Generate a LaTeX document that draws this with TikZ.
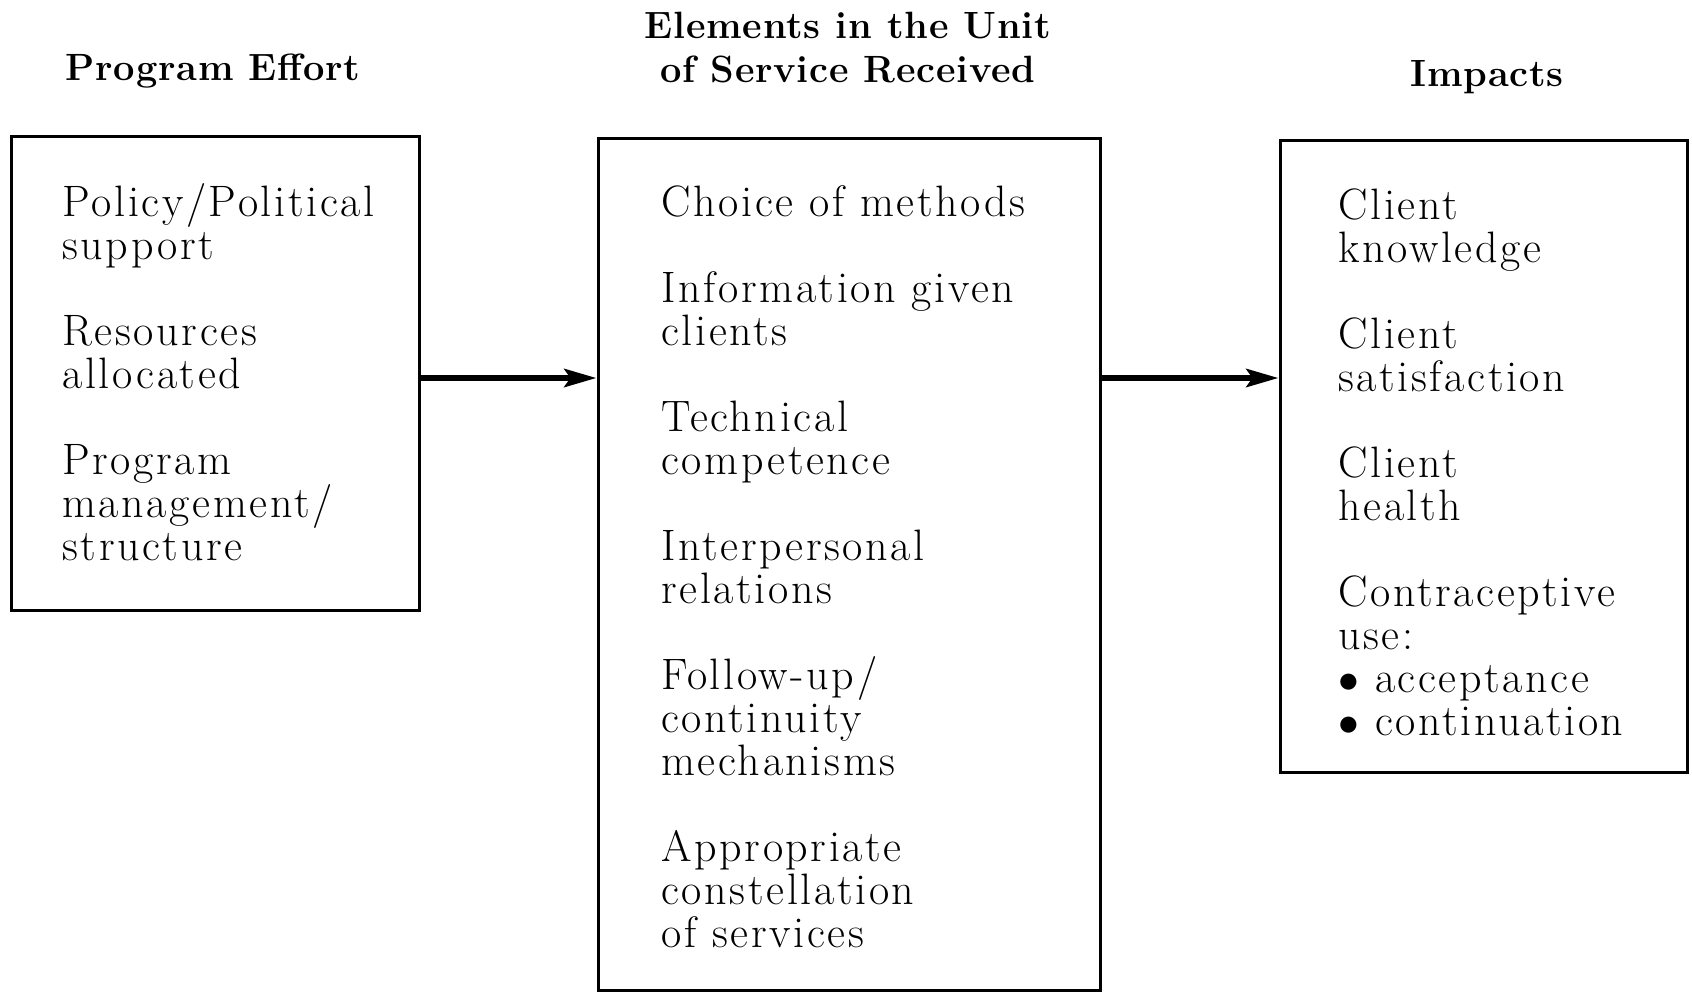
\documentclass[tikz,border=0pt]{standalone}
\usepackage{fontspec}
\newfontfamily\bodyfont[LetterSpace=6]{Latin Modern Roman}
\newfontfamily\headfont[LetterSpace=2]{Latin Modern Roman}
\usepackage{tikz}
\usetikzlibrary{arrows.meta, positioning, fit}

\tikzset{
  panel/.style={draw, line width=1.5pt, inner sep=0pt},
  body/.style={anchor=north west, inner sep=0pt, align=left,
    font=\bodyfont\fontsize{22}{21.5}\selectfont},
  head/.style={inner sep=0pt, align=center,
    font=\headfont\fontsize{19}{22}\selectfont\bfseries},
  flow/.style={-{Stealth[length=16pt, width=9pt, inset=3pt]}, line width=3pt}
}

\begin{document}
\begin{tikzpicture}[x=0.5pt, y=-0.5pt]
  \useasboundingbox (0,0) rectangle (1692,992);

  % Panel borders
  \node[panel, fit={(11,136) (419,610)}] (effort) {};
  \node[panel, fit={(598,138) (1100,990)}] (unit) {};
  \node[panel, fit={(1280,140) (1687,772)}] (impact) {};

  % --- Column headings ---
  \node[head, anchor=base] (effortHead) at (213,80) {Program Effort};
  \node[head, anchor=north] (unitHead) at (848,12) {Elements in the Unit\\of Service Received};
  \node[head, anchor=base] (impactHead) at (1487,86) {Impacts};

  % --- Panel 1: Program effort ---
  \node[body] (effortText) at (62,183)
    {Policy/Political\\support\\[21.5pt]
     Resources\\allocated\\[21.5pt]
     Program\\management/\\structure};

  % --- Panel 2: Unit of service ---
  \node[body] (unitText) at (661,185)
    {Choice of methods\\[21.5pt]
     Information given\\clients\\[21.5pt]
     Technical\\competence\\[21.5pt]
     Interpersonal\\relations\\[21.5pt]
     Follow-up/\\continuity\\mechanisms\\[21.5pt]
     Appropriate\\constellation\\of services};

  % --- Panel 3: Impacts ---
  \node[body] (impactText) at (1338,188)
    {Client\\knowledge\\[21.5pt]
     Client\\satisfaction\\[21.5pt]
     Client\\health\\[21.5pt]
     Contraceptive\\use:\\
     $\bullet$ acceptance\\
     $\bullet$ continuation};

  % Arrows between panels
  \coordinate (flowRow) at (0,378);
  \draw[flow] (effort.east |- flowRow) -- (unit.west |- flowRow);
  \draw[flow] (unit.east |- flowRow) -- (impact.west |- flowRow);
\end{tikzpicture}
\end{document}
